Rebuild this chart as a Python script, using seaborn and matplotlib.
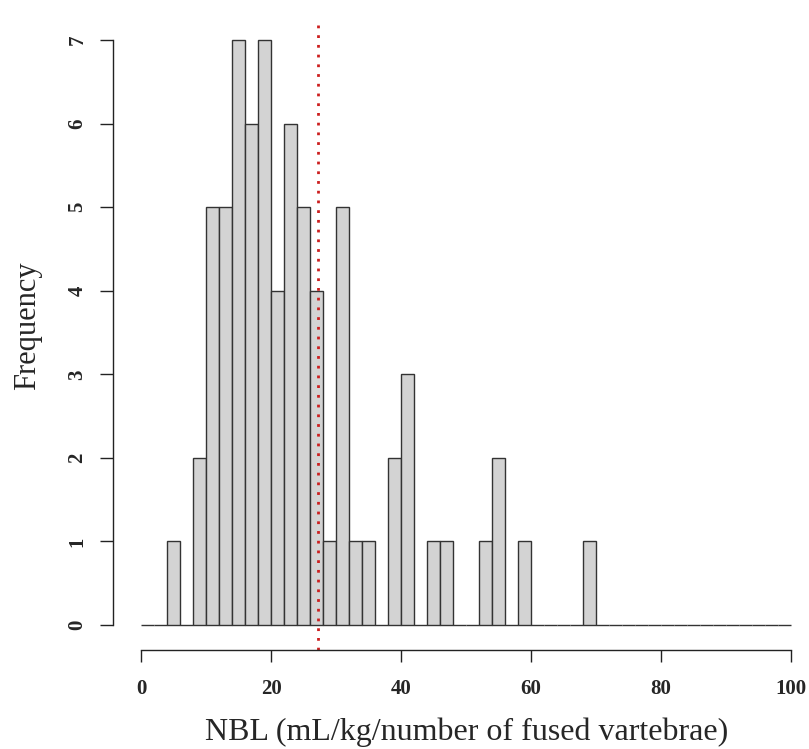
import numpy as np
import pandas as pd
import matplotlib
matplotlib.use("Agg")
import matplotlib.pyplot as plt
import seaborn as sns

# histogram counts, bins of width 2 from 0 to 100
bin_width = 2
bin_edges = np.arange(0, 100 + bin_width, bin_width)
counts = [0, 0, 1, 0, 2, 5, 5, 7, 6, 7,
          4, 6, 5, 4, 1, 5, 1, 1, 0, 2,
          3, 0, 1, 1, 0, 0, 1, 2, 0, 1,
          0, 0, 0, 0, 1, 0, 0, 0, 0, 0,
          0, 0, 0, 0, 0, 0, 0, 0, 0, 0]
mean_nbl = 27.3
x_ticks = [0, 20, 40, 60, 80, 100]
y_ticks = [0, 1, 2, 3, 4, 5, 6, 7]

df = pd.DataFrame({"nbl": bin_edges[:-1] + bin_width / 2, "n": counts})

sns.set_style("ticks")
plt.rcParams["font.family"] = ["Liberation Serif", "DejaVu Serif"]

fig = plt.figure(figsize=(8.09, 7.49), dpi=100)
ax = fig.add_axes([0.1397, 0.1322, 0.8492, 0.8411])

sns.histplot(data=df, x="nbl", weights="n", binwidth=bin_width,
             binrange=(0, 100), ax=ax,
             color="#d3d3d3", edgecolor="#333333", linewidth=1.0, alpha=1)

# dotted line for the mean
ax.axvline(mean_nbl, color="#cc1f1f", lw=2, linestyle=(0, (1, 2.5)))

ax.set_xlim(-4.31, 101.4)
ax.set_ylim(-0.299, 7.24)
ax.set_xticks(x_ticks)
ax.set_yticks(y_ticks)
ax.set_xticklabels([str(t) for t in x_ticks], fontweight="bold", fontsize=15)
ax.set_yticklabels([str(t) for t in y_ticks], fontweight="bold", fontsize=15,
                   rotation=90, va="center")
ax.tick_params(axis="x", length=8.6, width=1, color="#222222", pad=12)
ax.tick_params(axis="y", length=9.4, width=1, color="#222222", pad=9)

sns.despine(ax=ax)
ax.spines["bottom"].set_bounds(0, 100)
ax.spines["left"].set_bounds(0, 7)
for s in ["bottom", "left"]:
    ax.spines[s].set_color("#222222")
    ax.spines[s].set_linewidth(1)

ax.set_xlabel("NBL (mL/kg/number of fused vartebrae)", fontsize=23)
ax.set_ylabel("Frequency", fontsize=22)
ax.xaxis.set_label_coords(0.514, -0.131)
ax.xaxis.label.set_va("center")
ax.yaxis.set_label_coords(-0.124, 0.514)
ax.yaxis.label.set_va("center")

fig.savefig("out.png", dpi=100)
